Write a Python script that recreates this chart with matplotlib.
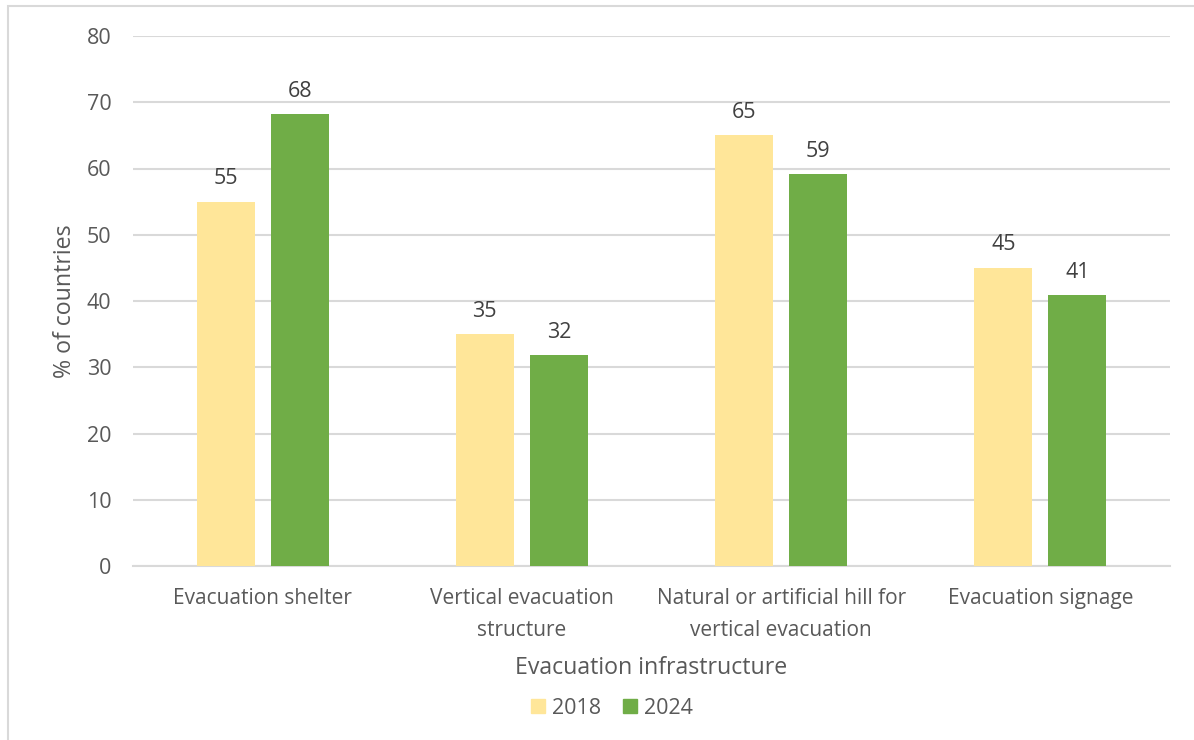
import matplotlib.pyplot as plt
import numpy as np
from matplotlib.patches import Rectangle, Patch

categories = ["Evacuation shelter", "Vertical evacuation\nstructure",
              "Natural or artificial hill for\nvertical evacuation", "Evacuation signage"]
vals_2018 = [55, 35, 65, 45]
vals_2024 = [68.2, 31.8, 59.1, 40.9]
labels_2018 = ["55", "35", "65", "45"]
labels_2024 = ["68", "32", "59", "41"]
years = ["2018", "2024"]

c18 = "#FFE699"
c24 = "#70AD47"
txt = "#595959"
grid = "#D9D9D9"

plt.rcParams['font.family'] = ['Open Sans', 'DejaVu Sans']

fig = plt.figure(figsize=(11.94, 7.4), dpi=100)
ax = fig.add_axes([133/1194, 1 - 566/740, (1170-133)/1194, (566-36)/740])

# outer chart border
fig.patches.append(Rectangle((8/1194, -0.1), 1.2, 1 - 6/740 + 0.1, transform=fig.transFigure,
                             fill=False, edgecolor=grid, linewidth=1.5))

x = np.arange(len(categories))
w = 0.224
off = 0.143
b1 = ax.bar(x - off, vals_2018, w, color=c18, zorder=3)
b2 = ax.bar(x + off, vals_2024, w, color=c24, zorder=3)

for bars, labs in [(b1, labels_2018), (b2, labels_2024)]:
    for b, lab in zip(bars, labs):
        ax.annotate(lab, (b.get_x() + b.get_width()/2, b.get_height()),
                    xytext=(0, 9), textcoords="offset points",
                    ha="center", va="bottom", fontsize=15.5, color="#404040")

ax.set_xlim(-0.5, 3.5)
ax.set_ylim(0, 80)
ax.set_yticks(range(0, 81, 10))
ax.yaxis.grid(True, color=grid, linewidth=1.5, zorder=0)
ax.set_axisbelow(True)
for s in ["top", "right", "left"]:
    ax.spines[s].set_visible(False)
ax.spines["bottom"].set_color(grid)
ax.spines["bottom"].set_linewidth(1.5)
ax.tick_params(axis="both", length=0, labelcolor=txt)
ax.tick_params(axis="y", pad=15.5, labelsize=15.5)
ax.tick_params(axis="x", pad=16, labelsize=15)
ax.set_xticks(x)
ax.set_xticklabels(categories, linespacing=1.65)

ax.set_xlabel("Evacuation infrastructure", fontsize=16.7, color=txt, labelpad=11)
ax.set_ylabel("% of countries", fontsize=16.7, color=txt, labelpad=7)

handles = [Patch(color=c18), Patch(color=c24)]
fig.legend(handles, years, loc="center", bbox_to_anchor=(612/1194, 1 - 708/740),
           ncol=2, frameon=False, fontsize=15.5, labelcolor=txt,
           handlelength=0.65, handleheight=0.65, handletextpad=0.3, columnspacing=1.05)

fig.savefig("out.png", dpi=100)
